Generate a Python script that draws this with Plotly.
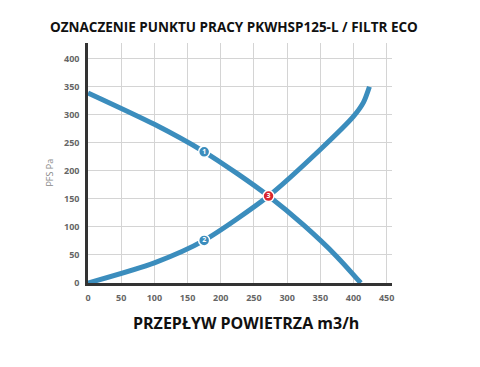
import plotly.graph_objects as go

# Fan curve (1)
fan_x = [0, 100, 175, 225, 272, 325, 375, 411]
fan_y = [339, 283, 234, 195, 155, 103, 47, 0]
# System curve (2)
sys_x = [0, 100, 175, 272, 350, 400, 415, 424]
sys_y = [0, 36, 76, 155, 238, 297, 322, 350]
# Markers
mark_x = [175, 175, 272]
mark_y = [234, 76, 155]
mark_labels = ["1", "2", "3"]
mark_colors = ["#3b8dbd", "#3b8dbd", "#d8262e"]

x_ticks = [0, 50, 100, 150, 200, 250, 300, 350, 400, 450]
y_ticks = [0, 50, 100, 150, 200, 250, 300, 350, 400]

LINE = "#3b8dbd"

fig = go.Figure()
fig.add_trace(go.Scatter(x=fan_x, y=fan_y, mode="lines",
                         line=dict(color=LINE, width=5, shape="spline", smoothing=0.7),
                         hoverinfo="skip", showlegend=False))
fig.add_trace(go.Scatter(x=sys_x, y=sys_y, mode="lines",
                         line=dict(color=LINE, width=5, shape="spline", smoothing=0.7),
                         hoverinfo="skip", showlegend=False))
fig.add_trace(go.Scatter(x=mark_x, y=mark_y, mode="markers+text",
                         marker=dict(size=11, color=mark_colors, line=dict(color="white", width=1.5)),
                         text=mark_labels, textposition="middle center",
                         textfont=dict(color="white", size=7, family="Open Sans", weight="bold"),
                         hoverinfo="skip", showlegend=False))

tickfont = dict(family="Open Sans", size=9, color="#666666", weight="bold")
fig.update_xaxes(range=[0, 458], tickvals=x_ticks, showgrid=True, gridcolor="#d4d4d4", gridwidth=1,
                 zeroline=False, showline=True, linecolor="#333333", linewidth=2.5,
                 tickfont=tickfont, ticks="", ticklabelstandoff=4)
fig.update_yaxes(range=[0, 428], tickvals=y_ticks, showgrid=True, gridcolor="#d4d4d4", gridwidth=1,
                 zeroline=False, showline=True, linecolor="#333333", linewidth=2.5,
                 tickfont=tickfont, ticks="", ticklabelstandoff=4)

fig.update_layout(
    width=480, height=367,
    margin=dict(l=80, r=96, t=35, b=92),
    paper_bgcolor="white", plot_bgcolor="white",
    annotations=[
        dict(text="OZNACZENIE PUNKTU PRACY PKWHSP125-L / FILTR ECO", xref="paper", yref="paper",
             x=0.48, y=1, xanchor="center", yanchor="middle", showarrow=False,
             font=dict(family="Open Sans", size=13.5, color="#111111", weight="bold"),
             yshift=16),
        dict(text="PRZEPŁYW POWIETRZA m3/h", xref="paper", yref="paper",
             x=0.52, y=0, xanchor="center", yanchor="middle", showarrow=False,
             font=dict(family="Open Sans", size=16, color="#111111", weight="bold"),
             yshift=-40),
        dict(text="PFS Pa", xref="paper", yref="paper", x=0, y=0.46, xanchor="center",
             yanchor="middle", showarrow=False, textangle=-90, xshift=-38,
             font=dict(family="Open Sans", size=9, color="#888888")),
    ],
)

fig.write_html("out.html")
